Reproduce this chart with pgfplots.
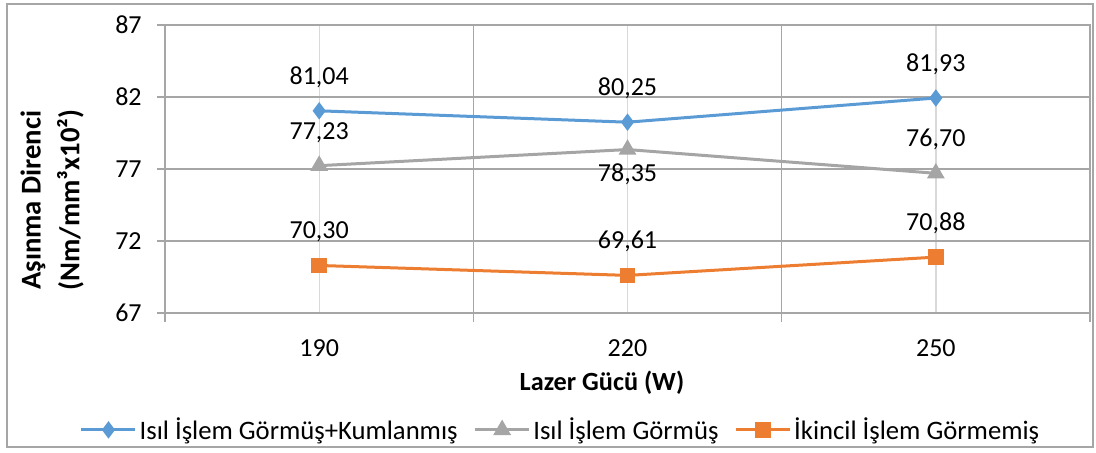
\documentclass[border=0pt]{standalone}
\usepackage{pgfplots}
\pgfplotsset{compat=1.18}
\usepackage{pgfplotstable}
\usepackage{fontspec}
\setmainfont{Carlito}
\definecolor{cblue}{HTML}{5B9BD5}
\definecolor{cgray}{HTML}{A5A5A5}
\definecolor{corange}{HTML}{ED7D31}
\definecolor{gridd}{HTML}{A6A6A6}
\definecolor{gridl}{HTML}{D9D9D9}
\definecolor{border}{HTML}{A6A6A6}

\pgfplotstableread{
x y s
0 81.04 20
1 80.25 20
2 81.93 20
}\tblue
\pgfplotstableread{
x y s
0 77.23 20
1 78.35 -24.3
2 76.70 20
}\tgray
\pgfplotstableread{
x y s
0 70.30 20
1 69.61 20
2 70.88 20
}\torange

\begin{document}
\begin{tikzpicture}
\begin{axis}[
  scale only axis,
  width=693.75pt, height=216pt,
  xmin=-0.5, xmax=2.5, ymin=67, ymax=87,
  xtick={0,1,2}, xticklabels={190,220,250},
  minor xtick={-0.5,0.5,1.5,2.5},
  ytick={67,72,77,82,87},
  tick pos=left, tick align=outside,
  major tick length=6pt, minor tick length=6.75pt,
  major x tick style={draw=none},
  minor x tick style={gridd, line width=1pt},
  major y tick style={gridd, line width=1pt},
  xmajorgrids, xminorgrids, ymajorgrids,
  major x grid style={gridl, line width=1pt},
  minor x grid style={gridd, line width=1pt},
  major y grid style={gridd, line width=1pt},
  axis line style={gridd, line width=1pt},
  clip=false,
  /pgf/number format/assume math mode=true,
  tick label style={font=\fontsize{19.5}{23}\selectfont, text=black},
  yticklabel style={xshift=-8pt},
  xticklabel style={anchor=base, yshift=-27pt},
  xlabel={Lazer Gücü (W)},
  xlabel style={font=\fontsize{19.7}{23}\selectfont\bfseries, anchor=base, at={(axis description cs:0.4724,0)}, yshift=-58.5pt},
  ylabel={Aşınma Direnci\\(Nm/mm³x10²)},
  ylabel style={font=\fontsize{21.5}{29}\selectfont\bfseries, align=center, anchor=center, at={(axis description cs:-0.122,0.392)}},
  legend columns=3,
  legend style={draw=none, fill=none, at={(axis description cs:0.428,-0.406)}, anchor=center,
    font=\fontsize{20}{24}\selectfont, inner xsep=0pt,
    /tikz/every even column/.append style={column sep=10pt},
    nodes={inner xsep=2pt}},
  legend image code/.code={\draw[mark repeat=2,mark phase=2,#1] plot coordinates {(0pt,0pt) (20.25pt,0pt) (40.5pt,0pt)};},
  nodes near coords={\pgfmathprintnumber[fixed,fixed zerofill,precision=2,use comma]{\pgfplotspointmeta}},
  nodes near coords style={font=\fontsize{19.5}{23}\selectfont, text=black, anchor=base, inner sep=0pt},
  visualization depends on={\thisrow{s} \as \ls},
  every node near coord/.append style={yshift=\ls pt},
]
\addplot[cblue, line width=2.25pt, mark=diamond*, mark size=4.7pt, mark options={solid}, point meta=\thisrow{y}] table[x=x,y=y] {\tblue};
\addlegendentry{Isıl İşlem Görmüş+Kumlanmış}
\addplot[cgray, line width=2.25pt, mark=triangle*, mark size=5.5pt, mark options={solid}, point meta=\thisrow{y}] table[x=x,y=y] {\tgray};
\addlegendentry{Isıl İşlem Görmüş}
\addplot[corange, line width=2.25pt, mark=square*, mark size=4.8pt, mark options={solid}, point meta=\thisrow{y}] table[x=x,y=y] {\torange};
\addlegendentry{İkincil İşlem Görmemiş}
\draw[border, line width=1pt] (rel axis cs:-0.1708,-0.4653) rectangle (rel axis cs:1.0032,1.0729);
\path (rel axis cs:-0.1784,-0.4861) rectangle (rel axis cs:1.00649,1.0868);
\end{axis}
\end{tikzpicture}
\end{document}
